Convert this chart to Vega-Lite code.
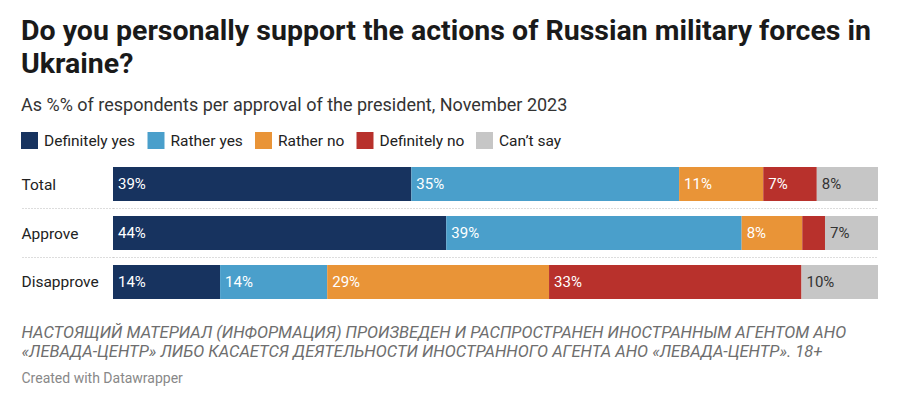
{
  "$schema": "https://vega.github.io/schema/vega-lite/v6.json",
  "width": 765,
  "height": 132,
  "autosize": {"type": "none"},
  "padding": {"left": 113, "top": 167, "right": 22, "bottom": 98},
  "background": "white",
  "config": {"view": {"stroke": null}, "font": "Roboto"},
  "title": {
    "text": ["Do you personally support the actions of Russian military forces in", "Ukraine?"],
    "subtitle": "As %% of respondents per approval of the president, November 2023",
    "anchor": "start",
    "frame": "group",
    "dx": -92,
    "offset": 17,
    "font": "Roboto",
    "fontSize": 28.5,
    "fontWeight": "bold",
    "lineHeight": 33,
    "color": "#1a1a1a",
    "subtitleFont": "Roboto",
    "subtitleFontSize": 18,
    "subtitleColor": "#333333",
    "subtitlePadding": 19
  },
  "data": {
    "values": [
      {"group": "Total", "answer": "Definitely yes", "order": 1, "value": 39, "label": "39%"},
      {"group": "Total", "answer": "Rather yes", "order": 2, "value": 35, "label": "35%"},
      {"group": "Total", "answer": "Rather no", "order": 3, "value": 11, "label": "11%"},
      {"group": "Total", "answer": "Definitely no", "order": 4, "value": 7, "label": "7%"},
      {"group": "Total", "answer": "Can’t say", "order": 5, "value": 8, "label": "8%"},
      {"group": "Approve", "answer": "Definitely yes", "order": 1, "value": 44, "label": "44%"},
      {"group": "Approve", "answer": "Rather yes", "order": 2, "value": 39, "label": "39%"},
      {"group": "Approve", "answer": "Rather no", "order": 3, "value": 8, "label": "8%"},
      {"group": "Approve", "answer": "Definitely no", "order": 4, "value": 3, "label": ""},
      {"group": "Approve", "answer": "Can’t say", "order": 5, "value": 7, "label": "7%"},
      {"group": "Disapprove", "answer": "Definitely yes", "order": 1, "value": 14, "label": "14%"},
      {"group": "Disapprove", "answer": "Rather yes", "order": 2, "value": 14, "label": "14%"},
      {"group": "Disapprove", "answer": "Rather no", "order": 3, "value": 29, "label": "29%"},
      {"group": "Disapprove", "answer": "Definitely no", "order": 4, "value": 33, "label": "33%"},
      {"group": "Disapprove", "answer": "Can’t say", "order": 5, "value": 10, "label": "10%"}
    ]
  },
  "transform": [
    {"stack": "value", "groupby": ["group"], "sort": [{"field": "order", "order": "ascending"}], "offset": "normalize", "as": ["x0", "x1"]}
  ],
  "encoding": {
    "y": {
      "field": "group",
      "type": "nominal",
      "sort": ["Total", "Approve", "Disapprove"],
      "scale": {"paddingInner": 0.306, "paddingOuter": 0},
      "axis": {
        "orient": "left",
        "domain": false,
        "ticks": true,
        "tickSize": 92,
        "tickDash": [1, 2],
        "tickWidth": 1,
        "tickColor": {"condition": {"test": "datum.value === 'Total'", "value": "transparent"}, "value": "#bbbbbb"},
        "grid": true,
        "gridDash": [1, 2],
        "gridWidth": 1,
        "gridColor": {"condition": {"test": "datum.value === 'Total'", "value": "transparent"}, "value": "#bbbbbb"},
        "bandPosition": 0,
        "tickOffset": -7.5,
        "labelOffset": 7.5,
        "labelAlign": "left",
        "labelBaseline": "middle",
        "labelPadding": 0,
        "labelFont": "Roboto",
        "labelFontSize": 15.5,
        "labelColor": "#222222",
        "title": "Created with Datawrapper",
        "titleAngle": 0,
        "titleX": -92,
        "titleY": 211,
        "titleAlign": "left",
        "titleBaseline": "middle",
        "titleFont": "Roboto",
        "titleFontSize": 14,
        "titleFontWeight": "normal",
        "titleColor": "#888888"
      }
    }
  },
  "layer": [
    {
      "mark": {"type": "bar"},
      "encoding": {
        "x": {
          "field": "x0",
          "type": "quantitative",
          "scale": {"domain": [0, 1], "nice": false},
          "axis": {
            "orient": "bottom",
            "domain": false,
            "ticks": false,
            "labels": false,
            "grid": false,
            "title": ["НАСТОЯЩИЙ МАТЕРИАЛ (ИНФОРМАЦИЯ) ПРОИЗВЕДЕН И РАСПРОСТРАНЕН ИНОСТРАННЫМ АГЕНТОМ АНО", "«ЛЕВАДА-ЦЕНТР» ЛИБО КАСАЕТСЯ ДЕЯТЕЛЬНОСТИ ИНОСТРАННОГО АГЕНТА АНО «ЛЕВАДА-ЦЕНТР». 18+"],
            "titleX": -92,
            "titleY": 25,
            "titleAlign": "left",
            "titleAnchor": "start",
            "titleBaseline": "top",
            "titleFont": "Roboto",
            "titleFontSize": 16.5,
            "titleFontStyle": "italic",
            "titleFontWeight": "normal",
            "titleLineHeight": 19,
            "titleColor": "#6e6e6e"
          }
        },
        "x2": {"field": "x1"},
        "color": {
          "field": "answer",
          "type": "nominal",
          "scale": {
            "domain": ["Definitely yes", "Rather yes", "Rather no", "Definitely no", "Can’t say"],
            "range": ["#17335f", "#4a9fcb", "#e99437", "#b8312c", "#c6c6c6"]
          },
          "legend": {
            "orient": "none",
            "direction": "horizontal",
            "legendX": -92,
            "legendY": -35,
            "title": null,
            "symbolType": "square",
            "symbolSize": 289,
            "symbolStrokeWidth": 0,
            "symbolOpacity": 1,
            "labelFont": "Roboto",
            "labelFontSize": 15.5,
            "labelColor": "#222222",
            "labelOffset": 6,
            "columnPadding": 11.5
          }
        }
      }
    },
    {
      "mark": {"type": "text", "align": "left", "baseline": "middle", "dx": 5, "font": "Roboto", "fontSize": 15},
      "encoding": {
        "x": {"field": "x0", "type": "quantitative"},
        "text": {"field": "label"},
        "color": {
          "condition": {"test": "datum.answer === 'Can’t say'", "value": "#333333"},
          "value": "#ffffff"
        }
      }
    }
  ]
}
